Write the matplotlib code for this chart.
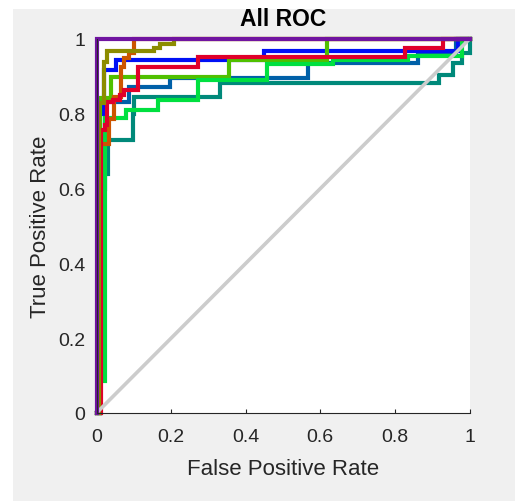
import matplotlib.pyplot as plt
from matplotlib.patches import Rectangle

plt.rcParams['font.family'] = ['Liberation Sans', 'DejaVu Sans']

# ROC curves, one per class (false positive rate, true positive rate)
teal_fpr = [0, 0.01, 0.01, 0.03, 0.03, 0.097, 0.097, 0.1, 0.1, 0.332, 0.332, 0.917, 0.917, 0.957, 0.957, 0.981, 0.981, 1, 1]
teal_tpr = [0, 0, 0.64, 0.64, 0.73, 0.73, 0.80, 0.80, 0.845, 0.845, 0.882, 0.882, 0.903, 0.903, 0.936, 0.936, 0.962, 0.962, 1]

steel_fpr = [0, 0.01, 0.01, 0.024, 0.024, 0.086, 0.086, 0.196, 0.196, 0.566, 0.566, 0.861, 0.861, 0.965, 0.965, 1]
steel_tpr = [0, 0, 0.6, 0.6, 0.831, 0.831, 0.871, 0.871, 0.895, 0.895, 0.936, 0.936, 0.962, 0.962, 1, 1]

blue_fpr = [0, 0.01, 0.01, 0.021, 0.021, 0.051, 0.051, 0.448, 0.448, 0.97, 0.97, 1]
blue_tpr = [0, 0, 0.8, 0.8, 0.917, 0.917, 0.944, 0.944, 0.968, 0.968, 1, 1]

ygreen_fpr = [0, 0.01, 0.01, 0.038, 0.038, 0.354, 0.354, 0.617, 0.617, 1]
ygreen_tpr = [0, 0, 0.842, 0.842, 0.898, 0.898, 0.944, 0.944, 1, 1]

green_fpr = [0, 0.01, 0.01, 0.022, 0.022, 0.078, 0.078, 0.164, 0.164, 0.273, 0.273, 0.458, 0.458, 0.635, 0.635, 0.836, 0.836, 0.981, 0.981, 1]
green_tpr = [0, 0, 0.086, 0.086, 0.788, 0.788, 0.81, 0.81, 0.836, 0.836, 0.89, 0.89, 0.933, 0.933, 0.944, 0.944, 0.954, 0.954, 1, 1]

orange_fpr = [0, 0.01, 0.01, 0.033, 0.033, 0.048, 0.048, 0.066, 0.066, 0.073, 0.073, 0.087, 0.087, 0.1, 0.1, 1]
orange_tpr = [0, 0, 0.72, 0.72, 0.785, 0.785, 0.845, 0.845, 0.926, 0.926, 0.948, 0.948, 0.962, 0.962, 1, 1]

red_fpr = [0, 0.012, 0.012, 0.024, 0.024, 0.029, 0.029, 0.043, 0.043, 0.062, 0.062, 0.075, 0.075, 0.11, 0.11, 0.273, 0.273, 0.828, 0.828, 0.928, 0.928, 1]
red_tpr = [0, 0, 0.756, 0.756, 0.77, 0.77, 0.831, 0.831, 0.836, 0.836, 0.85, 0.85, 0.863, 0.863, 0.925, 0.925, 0.952, 0.952, 0.976, 0.976, 1, 1]

olive_fpr = [0, 0.008, 0.008, 0.019, 0.019, 0.029, 0.029, 0.155, 0.155, 0.169, 0.169, 0.209, 0.209, 1]
olive_tpr = [0, 0, 0.83, 0.83, 0.938, 0.938, 0.968, 0.968, 0.976, 0.976, 0.987, 0.987, 1, 1]

purple_fpr = [0, 0, 1]
purple_tpr = [0, 1, 1]

curves = [
    (teal_fpr, teal_tpr, '#00897A'),
    (steel_fpr, steel_tpr, '#0060A8'),
    (blue_fpr, blue_tpr, '#0010F5'),
    (ygreen_fpr, ygreen_tpr, '#50C000'),
    (green_fpr, green_tpr, '#00E040'),
    (orange_fpr, orange_tpr, '#CC5500'),
    (red_fpr, red_tpr, '#E0002A'),
    (olive_fpr, olive_tpr, '#8C8C00'),
]

fig = plt.figure(figsize=(5.15, 5.02), dpi=100, facecolor='white')
# grey figure panel (screenshot has a thin white margin top/left)
fig.patches.append(Rectangle((13 / 515, 0), 1 - 13 / 515, 1 - 10 / 502,
                             transform=fig.transFigure, facecolor='#F0F0F0',
                             edgecolor='none', zorder=-10))

ax = fig.add_axes([96.5 / 515, (502 - 414) / 502, 373 / 515, 374 / 502])
ax.set_facecolor('white')

for fpr, tpr, col in curves:
    ax.plot(fpr, tpr, color=col, lw=3.0, solid_joinstyle='miter', clip_on=False)

ax.plot([0, 1], [0, 1], color='#CCCCCC', lw=2.6, clip_on=False)
ax.plot(purple_fpr, purple_tpr, color='#7014A0', lw=3.0, solid_joinstyle='miter', clip_on=False)

ax.set_xlim(0, 1)
ax.set_ylim(0, 1)
ticks = [0, 0.2, 0.4, 0.6, 0.8, 1]
labels = ['0', '0.2', '0.4', '0.6', '0.8', '1']
ax.set_xticks(ticks)
ax.set_xticklabels(labels)
ax.set_yticks(ticks)
ax.set_yticklabels(labels)
ax.tick_params(direction='in', length=3, width=0.8, colors='#262626', labelsize=14)
ax.tick_params(axis='x', pad=11)
ax.tick_params(axis='y', pad=8)

for side in ['top', 'right']:
    ax.spines[side].set_visible(False)
for side in ['left', 'bottom']:
    ax.spines[side].set_color('#262626')
    ax.spines[side].set_linewidth(0.8)

ax.set_xlabel('False Positive Rate', fontsize=16, color='#262626', labelpad=9)
ax.set_ylabel('True Positive Rate', fontsize=16, color='#262626', labelpad=5)
ax.set_title('All ROC', fontsize=16.5, fontweight='bold', color='#000000', pad=10)

fig.savefig('out.png', dpi=100, facecolor=fig.get_facecolor())
